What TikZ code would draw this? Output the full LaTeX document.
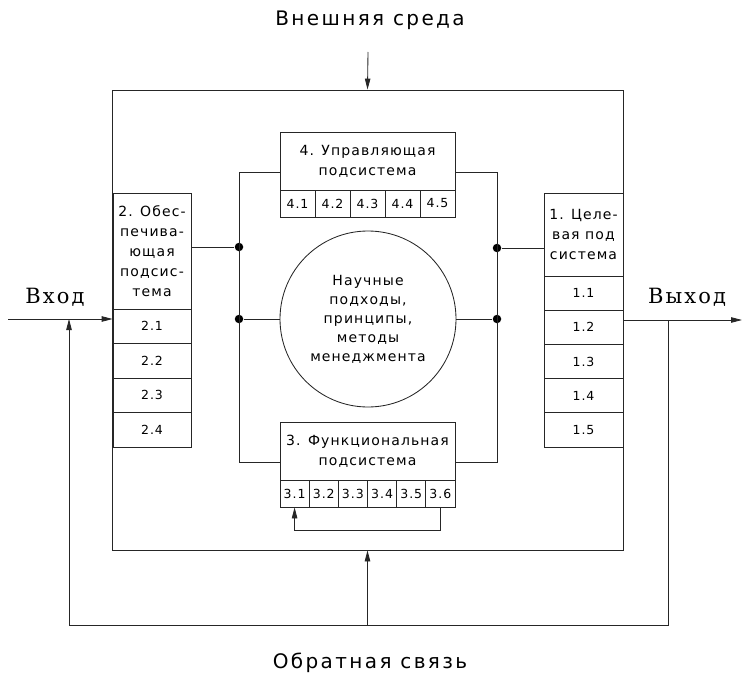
\documentclass[tikz,border=0pt]{standalone}
\usepackage{fontspec}
\setmainfont{DejaVu Sans}[LetterSpace=8]
\newfontfamily\widefont{DejaVu Sans}[LetterSpace=12]
\newfontfamily\serifcad{DejaVu Serif}[LetterSpace=10]
\usetikzlibrary{arrows.meta}
\begin{document}
\begin{tikzpicture}[x=1pt,y=-1pt, line width=0.85pt, draw=black!85,
  box/.style={draw, rectangle, inner sep=0pt, align=center},
  hdr/.style={box, font=\fontsize{14}{20}\selectfont},
  cell/.style={box, font=\fontsize{12.5}{14}\selectfont},
  lbl/.style={font=\widefont\fontsize{20}{24}\selectfont},
  slbl/.style={font=\serifcad\fontsize{21}{24}\selectfont},
  junct/.style={circle, fill, inner sep=0pt, minimum size=8.5pt},
  arr/.style={-{Triangle[length=11pt,width=5.5pt]}},
]
\useasboundingbox (0,0) rectangle (742,677);

% outer frame
\node[box, minimum width=511pt, minimum height=460pt] (frame) at (367.5,320) {};

% labels
\node[lbl] (env) at (370,20) {Внешняя среда};
\node[lbl] (fb) at (370,663) {Обратная связь};
\node[slbl] (inlbl) at (55,297) {Вход};
\node[slbl] (outlbl) at (687,297) {Выход};

% 4. control subsystem
\node[hdr, minimum width=175pt, minimum height=58pt] (h4) at (367.5,161) {4. Управляющая\\подсистема};
\foreach \i [count=\k from 0] in {1,...,5}
  \node[cell, minimum width=35pt, minimum height=27pt] (c4\i) at (297.5+35*\k,203.5) {4.\i};

% 3. functional subsystem
\node[hdr, minimum width=175pt, minimum height=58pt] (h3) at (367.5,451) {3. Функциональная\\подсистема};
\foreach \i [count=\k from 0] in {1,...,6}
  \node[cell, minimum width=29.17pt, minimum height=27pt] (c3\i) at (294.58+29.17*\k,493.5) {3.\i};

% 2. supporting subsystem
\node[hdr, minimum width=78pt, minimum height=116pt] (h2) at (152,251) {2. Обес-\\печива-\\ющая\\подсис-\\тема};
\foreach \i [count=\k from 0] in {1,...,4}
  \node[cell, minimum width=78pt, minimum height=34.5pt] (c2\i) at (152,326.25+34.5*\k) {2.\i};

% 1. target subsystem
\node[hdr, minimum width=79pt, minimum height=83pt] (h1) at (583.5,234.5) {1. Целе-\\вая под\\система};
\foreach \i [count=\k from 0] in {1,...,5}
  \node[cell, minimum width=79pt, minimum height=34.2pt] (c1\i) at (583.5,293.1+34.2*\k) {1.\i};

% centre
\node[draw, circle, minimum size=176pt, inner sep=0pt, align=center,
      font=\fontsize{14}{19}\selectfont] (circ) at (368,319)
  {Научные\\подходы,\\принципы,\\методы\\менеджмента};

% buses
\coordinate (lt) at (239,172);
\coordinate (lb) at (239,462);
\coordinate (rt) at (497,172);
\coordinate (rb) at (497,462);
\node[junct] (d1) at (239,247) {};
\node[junct] (d2) at (239,319) {};
\node[junct] (d3) at (497,248) {};
\node[junct] (d4) at (497,319) {};

\draw (h4.west |- lt) -- (lt) -- (lb) -- (h3.west |- lb);
\draw (h4.east |- rt) -- (rt) -- (rb) -- (h3.east |- rb);
\draw (h2.east |- d1) -- (d1);
\draw (h1.west |- d3) -- (d3);
\draw (circ.west) -- (d2);
\draw (circ.east) -- (d4);

% environment
\coordinate (envtop) at (368,52);
\draw[arr] (envtop) -- (frame.north);

% input / output
\coordinate (inl) at (8,319);
\draw[arr] (inl) -- (c21.west |- inl);
\coordinate (outr) at (742,320);
\draw[arr] (frame.east |- outr) -- (outr);

% feedback
\coordinate (fbR) at (668,320);
\coordinate (fbB) at (668,625);
\coordinate (fbL) at (69,319);
\draw[arr] (fbR) -- (fbB) -- (fbL |- fbB) -- (fbL);
\draw[arr] (frame.south |- fbB) -- (frame.south);

% internal loop 3.6 -> 3.1
\coordinate (loopy) at (0,530);
\draw[arr] (c36.south) -- (c36.south |- loopy) -- (c31.south |- loopy) -- (c31.south);
\end{tikzpicture}
\end{document}
